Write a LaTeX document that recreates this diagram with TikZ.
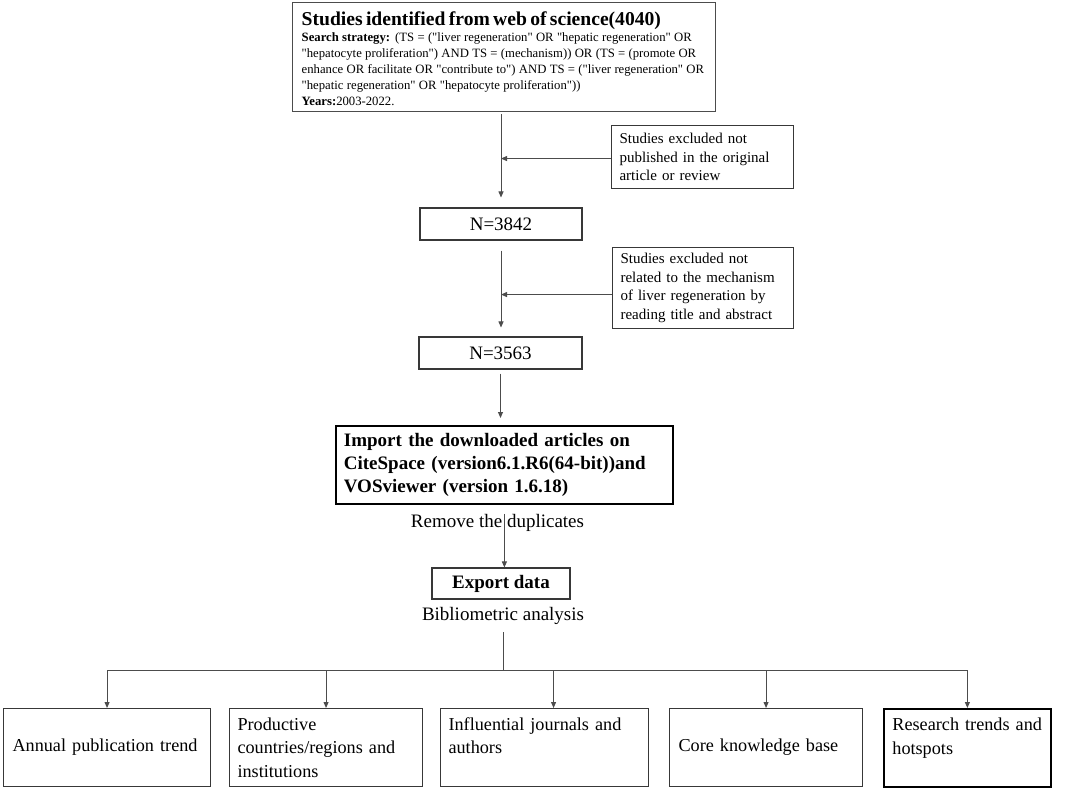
\documentclass[tikz,border=0pt]{standalone}
\usepackage{fontspec}
\setmainfont{Liberation Serif}[Ligatures=TeXOff]
\usetikzlibrary{arrows.meta,calc}
\begin{document}
\begin{tikzpicture}[x=1pt,y=-1pt,
  box/.style={draw=black!78, line width=1.1pt, align=left, inner ysep=0pt},
  arr/.style={draw=black!70, line width=0.9pt, -{Triangle[length=6pt,width=5pt]}},
  conn/.style={draw=black!70, line width=0.9pt},
  f19/.style={font=\fontsize{19}{22}\selectfont},
  f19b/.style={font=\bfseries\fontsize{19}{23}\selectfont},
  f15/.style={font=\fontsize{15}{18.5}\selectfont},
  fbot/.style={font=\fontsize{18.2}{23.3}\selectfont}
]
\useasboundingbox[fill=white] (0,0) rectangle (1072,789);

% top box
\node[box, draw=black!70, line width=1.4pt, anchor=north west, text width=405pt, inner xsep=9pt, minimum height=109pt] (top) at (292,2)
{\parskip=0pt
{\fontsize{19.6}{22}\selectfont\bfseries\rule{0pt}{17.5pt}Studies identified from web of science(4040)\par}
\fontsize{12.7}{16}\selectfont
\textbf{Search strategy:} (TS = ("liver regeneration" OR "hepatic regeneration" OR\par
"hepatocyte proliferation") AND TS = (mechanism)) OR (TS = (promote OR\par
enhance OR facilitate OR "contribute to") AND TS = ("liver regeneration" OR\par
"hepatic regeneration" OR "hepatocyte proliferation"))\par
\textbf{Years:}2003-2022.\par};

% exclusion boxes
\node[box, f15, anchor=north west, text width=166pt, inner xsep=8pt, minimum height=63pt] (ex1) at (611,125)
{Studies excluded not\\published in the original\\article or review};
\node[box, f15, anchor=north west, text width=165pt, inner xsep=8pt, minimum height=81pt] (ex2) at (612,247)
{Studies excluded not\\related to the mechanism\\of liver regeneration by\\reading title and abstract};

% counts
\node[box, f19, align=center, minimum width=162pt, minimum height=32pt, inner sep=0pt] (n1) at (501,224) {N=3842};
\node[box, f19, align=center, minimum width=163pt, minimum height=32pt, inner sep=0pt] (n2) at (500.5,353) {N=3563};

% import
\node[box, f19b, draw=black, line width=1.8pt, anchor=north west, text width=321pt, inner xsep=8pt, minimum height=78pt] (imp) at (335,425)
{Import the downloaded articles on\\CiteSpace (version6.1.R6(64-bit))and\\VOSviewer (version 1.6.18)};

\node[f19, inner sep=0pt] (rem) at (497.5,523) {Remove the duplicates};
\node[box, font=\bfseries\fontsize{19}{22}\selectfont, align=center, minimum width=138pt, minimum height=31pt, inner sep=0pt] (exp) at (501,583.5) {Export data};
\node[f19, inner sep=0pt] (bib) at (503,616) {Bibliometric analysis};

% bottom boxes
\node[box, fbot, anchor=north west, text width=189pt, inner xsep=9pt, minimum height=78pt] (b1) at (3,708)
{Annual publication trend};
\node[box, fbot, anchor=north west, text width=177pt, inner xsep=8pt, minimum height=78pt] (b2) at (229,708)
{Productive\\countries/regions and\\institutions};
\node[box, fbot, anchor=north west, text width=192pt, inner xsep=8pt, minimum height=78pt] (b3) at (440,708)
{Influential journals and\\authors\\\mbox{}};
\node[box, fbot, anchor=north west, text width=175pt, inner xsep=9pt, minimum height=78pt] (b4) at (669,708)
{Core knowledge base};
\node[box, fbot, draw=black, line width=1.8pt, anchor=north west, text width=150pt, inner xsep=8.5pt, minimum height=78pt] (b5) at (883,708)
{Research trends and\\hotspots\\\mbox{}};

% connectors
\draw[arr, shorten <=2pt, shorten >=10pt] (n1.north |- top.south) -- (n1.north);
\draw[arr] ([yshift=-1.5pt]ex1.west) -- ([yshift=-1.5pt]ex1.west -| n1.north);
\draw[arr, shorten <=10pt, shorten >=9pt] (n1.south) -- (n1.south |- n2.north);
\draw[arr] ([yshift=-6.5pt]ex2.west) -- ([yshift=-6.5pt]ex2.west -| n1.south);
\draw[arr, shorten <=4pt, shorten >=7pt] (n2.south) -- (n2.south |- imp.north);
\draw[arr, shorten <=9pt] (imp.south) -- (imp.south |- exp.north);

\coordinate (hub) at (503,670);
\coordinate (b3drop) at ([xshift=9pt]b3.north);
\draw[conn, shorten <=7.5pt] (bib.south) -- (hub);
\draw[conn] (hub -| b1.north) -- (hub -| b5.north);
\draw[arr] (hub -| b1.north) -- (b1.north);
\draw[arr] (hub -| b2.north) -- (b2.north);
\draw[arr] (hub -| b3drop) -- (b3drop);
\draw[arr] (hub -| b4.north) -- (b4.north);
\draw[arr] (hub -| b5.north) -- (b5.north);
\end{tikzpicture}
\end{document}
